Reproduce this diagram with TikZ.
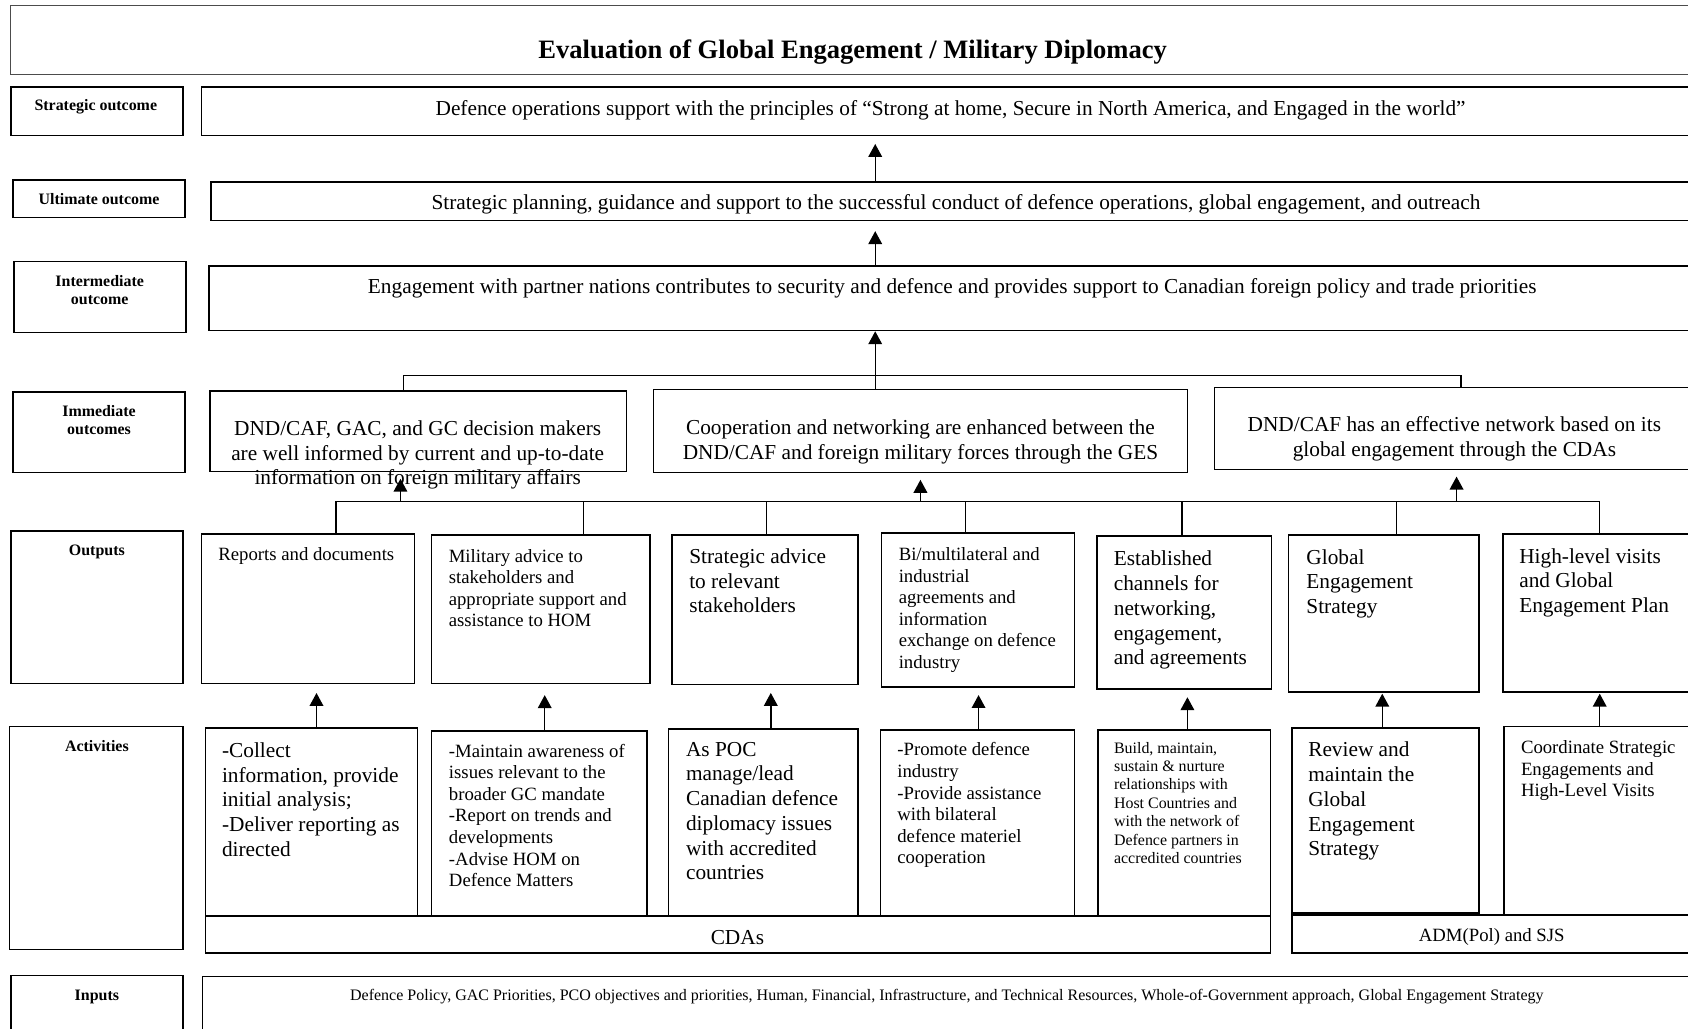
\documentclass[tikz,border=0pt]{standalone}
\usepackage{fontspec}
\setmainfont{Liberation Serif}
\usetikzlibrary{arrows.meta,fit}
\tikzset{
  box/.style={draw, line width=1.1pt, inner sep=0pt},
  hdr/.style={font=\fontsize{11.1}{12.5}\selectfont\bfseries, align=center, inner sep=0pt},
  bigt/.style={font=\fontsize{14.85}{17.25}\selectfont, align=left, inner sep=0pt},
  midt/.style={font=\fontsize{13.05}{15}\selectfont, align=left, inner sep=0pt},
  smlt/.style={font=\fontsize{11.1}{12.85}\selectfont, align=left, inner sep=0pt},
  conn/.style={line width=1pt},
  arr/.style={conn, -{Triangle[width=9.5pt,length=9pt]}},
}
\begin{document}
\begin{tikzpicture}[x=0.75pt,y=0.75pt,yscale=-1,xscale=1]
\useasboundingbox (0,0) rectangle (1568,955);
\clip (0,0) rectangle (1568,955);

%Title
\node[box, draw=black!70, line width=0.8pt, fit={(10,5) (1575,69)}] (title) {};
\node[font=\fontsize{18.5}{22}\selectfont\bfseries, inner sep=0pt, anchor=base] (titlet) at (792,54) {Evaluation of Global Engagement / Military Diplomacy};

%Row labels
\node[box, fit={(10,81) (170,126)}] (slbl) {};
\node[hdr, anchor=base] (slblt) at (89,102.4) {Strategic outcome};
\node[box, fit={(12,167) (172,202)}] (ulbl) {};
\node[hdr, anchor=base] (ulblt) at (92,189.8) {Ultimate outcome};
\node[box, fit={(13,243) (173,309)}] (ilbl) {};
\node[hdr, anchor=north] (ilblt) at (92.6,255.7) {Intermediate\\outcome};
\node[box, fit={(12,364) (172,439)}] (mlbl) {};
\node[hdr, anchor=north] (mlblt) at (92,376.5) {Immediate\\outcomes};
\node[box, fit={(10,493) (170,635)}] (olbl) {};
\node[hdr, anchor=base] (olblt) at (90,515.9) {Outputs};
\node[box, fit={(9,675) (170,882)}] (albl) {};
\node[hdr, anchor=base] (alblt) at (90,697.9) {Activities};
\node[box, fit={(10,906) (170,965)}] (nlbl) {};
\node[hdr, anchor=base] (nlblt) at (90,929) {Inputs};

%Outcomes
\node[box, fit={(187,81) (1579,126)}] (strat) {};
\node[bigt, anchor=base] (stratt) at (883,107) {Defence operations support with the principles of “Strong at home, Secure in North America, and Engaged in the world”};
\node[box, fit={(196,169) (1580,205)}] (ult) {};
\node[bigt, anchor=base] (ultt) at (888,195) {Strategic planning, guidance and support to the successful conduct of defence operations, global engagement, and outreach};
\node[box, fit={(194,247) (1575,307)}] (inter) {};
\node[bigt, anchor=base] (intert) at (884.5,272.5) {Engagement with partner nations contributes to security and defence and provides support to Canadian foreign policy and trade priorities};

%Immediate outcomes
\node[box, fit={(195,363) (582,438)}] (imm1) {};
\node[bigt, align=center, anchor=north] (imm1t) at (388,390.5) {DND/CAF, GAC, and GC decision makers\\are well informed by current and up-to-date\\information on foreign military affairs};
\node[box, fit={(607,362) (1103,439)}] (imm2) {};
\node[bigt, align=center, anchor=north] (imm2t) at (855,389.5) {Cooperation and networking are enhanced between the\\DND/CAF and foreign military forces through the GES};
\node[box, fit={(1128,360) (1580,436)}] (imm3) {};
\node[bigt, align=center, anchor=north] (imm3t) at (1351,387) {DND/CAF has an effective network based on its\\global engagement through the CDAs};

%Outputs
\node[box, fit={(187,496) (385,635)}] (out1) {};
\node[midt, anchor=north west] (out1t) at (202.6,508.3) {Reports and documents};
\node[box, fit={(401,497) (604,635)}] (out2) {};
\node[midt, anchor=north west] (out2t) at (416.6,510) {Military advice to\\stakeholders and\\appropriate support and\\assistance to HOM};
\node[box, fit={(624,497) (797,636)}] (out3) {};
\node[bigt, anchor=north west] (out3t) at (640,509.4) {Strategic advice\\to relevant\\stakeholders};
\node[box, fit={(819,495) (998,638)}] (out4) {};
\node[midt, anchor=north west] (out4t) at (834.6,508.3) {Bi/multilateral and\\industrial\\agreements and\\information\\exchange on defence\\industry};
\node[box, fit={(1019,498) (1181,640)}] (out5) {};
\node[bigt, anchor=north west] (out5t) at (1034.4,511.6) {Established\\channels for\\networking,\\engagement,\\and agreements};
\node[box, fit={(1197,497) (1374,643)}] (out6) {};
\node[bigt, anchor=north west] (out6t) at (1213.3,510) {Global\\Engagement\\Strategy};
\node[box, fit={(1396,496) (1580,643)}] (out7) {};
\node[bigt, anchor=north west] (out7t) at (1411,509.1) {High-level visits\\and Global\\Engagement Plan};

%Activities
\node[box, fit={(191,676) (388,851)}] (act1) {};
\node[bigt, anchor=north west] (act1t) at (206,689.6) {-Collect\\information, provide\\initial analysis;\\-Deliver reporting as\\directed};
\node[box, fit={(401,679) (601,851)}] (act2) {};
\node[midt, anchor=north west] (act2t) at (416.8,691) {-Maintain awareness of\\issues relevant to the\\broader GC mandate\\-Report on trends and\\developments\\-Advise HOM on\\Defence Matters};
\node[box, fit={(621,677) (797,851)}] (act3) {};
\node[bigt, anchor=north west] (act3t) at (637,689) {As POC\\manage/lead\\Canadian defence\\diplomacy issues\\with accredited\\countries};
\node[box, fit={(818,678) (998,851)}] (act4) {};
\node[midt, anchor=north west] (act4t) at (833.3,689.7) {-Promote defence\\industry\\-Provide assistance\\with bilateral\\defence materiel\\cooperation};
\node[box, fit={(1020,678) (1180,851)}] (act5) {};
\node[smlt, anchor=north west] (act5t) at (1034.6,689) {Build, maintain,\\sustain \& nurture\\relationships with\\Host Countries and\\with the network of\\Defence partners in\\accredited countries};
\node[box, fit={(1200,676) (1374,848)}] (act6) {};
\node[bigt, anchor=north west] (act6t) at (1215,689) {Review and\\maintain the\\Global\\Engagement\\Strategy};
\node[box, fit={(1397,675) (1580,850)}] (act7) {};
\node[midt, anchor=north west] (act7t) at (1412.6,688) {Coordinate Strategic\\Engagements and\\High-Level Visits};

%Owners
\node[box, fit={(191,851) (1180,885)}] (cdas) {};
\node[bigt, anchor=base] (cdast) at (685,877.2) {CDAs};
\node[box, fit={(1200,850) (1580,885)}] (adm) {};
\node[midt, anchor=base] (admt) at (1385.7,874.3) {ADM(Pol) and SJS};

%Inputs
\node[box, fit={(188,907) (1580,965)}] (inp) {};
\node[font=\fontsize{11.15}{13}\selectfont, inner sep=0pt, anchor=base] (inpt) at (879.5,929.5) {Defence Policy, GAC Priorities, PCO objectives and priorities, Human, Financial, Infrastructure, and Technical Resources, Whole-of-Government approach, Global Engagement Strategy};

%Arrows between outcome levels
\coordinate (ib) at (813,349);
\coordinate (ibl) at (375,349);
\coordinate (ibr) at (1357,349);
\draw[arr, shorten >=5.25pt] (ult.north -| ib) -- (strat.south -| ib);
\draw[arr, shorten >=6.75pt] (inter.north -| ib) -- (ult.south -| ib);
\draw[arr] (ib) -- (inter.south -| ib);
\draw[conn] (imm1.north -| ibl) -- (ibl) -- (ibr) -- (imm3.north -| ibr);
\draw[conn] (ib) -- (imm2.north -| ib);

%Outputs to immediate outcomes
\coordinate (obl) at (312,466);
\coordinate (obr) at (1486,466);
\draw[conn] (out1.north -| obl) -- (obl) -- (obr) -- (out7.north -| obr);
\foreach \n/\x in {2/542,3/712,4/897,5/1098,6/1297}{
  \coordinate (oj\n) at (\x,466);
  \draw[conn] (oj\n) -- (oj\n |- out\n.north);
}
\foreach \n/\x in {1/372,2/855,3/1353}{
  \coordinate (oa\n) at (\x,466);
  \draw[arr, shorten >=4.5pt] (oa\n) -- (oa\n |- imm\n.south);
}

%Activities to outputs
\foreach \n/\x/\g in {1/294/6,2/506/7.5,3/716/5.2,4/909/5.2,5/1103/5.2,6/1284/0.5,7/1486/0.5}
  \draw[arr, shorten >=\g pt] (act\n.north -| \x,0) -- (out\n.south -| \x,0);

\end{tikzpicture}
\end{document}
